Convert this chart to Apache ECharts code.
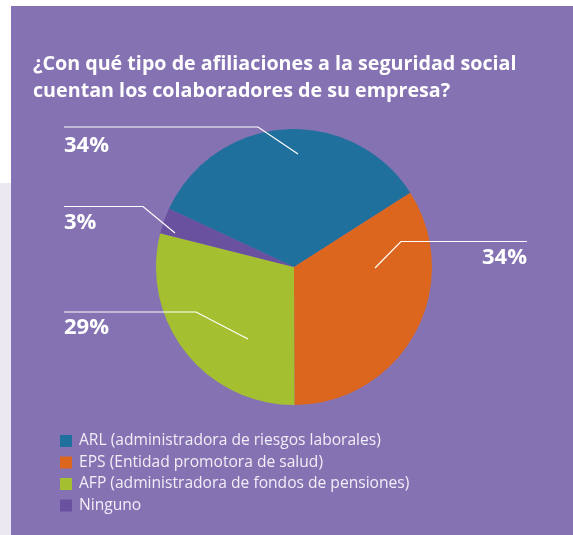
<!DOCTYPE html>
<html>
<head>
<meta charset="utf-8">
<script src="https://cdn.jsdelivr.net/npm/echarts@6/dist/echarts.min.js"></script>
<style>
  html, body { margin: 0; padding: 0; background: #ffffff; }
  #chart { width: 573px; height: 535px; }
</style>
</head>
<body>
<div id="chart"></div>
<script>
// datos del gráfico
const categories = [
  'ARL (administradora de riesgos laborales)',
  'EPS (Entidad promotora de salud)',
  'AFP (administradora de fondos de pensiones)',
  'Ninguno'
];
const values = [34, 34, 29, 3];
const colors = ['#20709d', '#dc661e', '#a4c031', '#6a51a0'];

// posición de las etiquetas y líneas guía (diseño fijo de la infografía)
const labelSpots = [
  { x: 64, y: 146, align: 'left', line: [[298, 154], [258, 127], [64, 127]] },
  { x: 527, y: 258, align: 'right', line: [[375, 268], [401, 241.5], [527, 241.5]] },
  { x: 64, y: 328, align: 'left', line: [[248, 339], [196, 312], [64, 312]] },
  { x: 64, y: 223, align: 'left', line: [[175, 233], [143, 206.5], [64, 206.5]] }
];

const pieCenter = [294, 267];
const pieRadius = 138;
const pieStart = 155;

const chart = echarts.init(document.getElementById('chart'));

const option = {
  backgroundColor: '#ffffff',
  animation: false,
  graphic: [
    { type: 'rect', silent: true, shape: { x: 0, y: 183, width: 11, height: 352 }, style: { fill: '#ebe8f1' } },
    { type: 'rect', silent: true, shape: { x: 11, y: 6, width: 562, height: 529 }, style: { fill: '#8572b3' } }
  ],
  title: {
    text: '¿Con qué tipo de afiliaciones a la seguridad social\ncuentan los colaboradores de su empresa?',
    left: 28,
    top: 46,
    textStyle: {
      color: '#ffffff',
      fontFamily: 'Open Sans',
      fontWeight: 'bold',
      fontSize: 19.7,
      lineHeight: 27
    }
  },
  legend: {
    orient: 'vertical',
    left: 55,
    top: 427,
    icon: 'rect',
    itemWidth: 12,
    itemHeight: 12,
    itemGap: 3.5,
    data: categories,
    textStyle: {
      color: '#f1eef7',
      fontFamily: 'Open Sans',
      fontSize: 15.6,
      lineHeight: 18,
      padding: [0, 0, 0, 2]
    }
  },
  series: [
    {
      // sectores con color
      type: 'pie',
      center: pieCenter,
      radius: pieRadius,
      startAngle: pieStart,
      clockwise: true,
      z: 2,
      data: categories.map((name, i) => ({
        name: name,
        value: values[i],
        itemStyle: { color: colors[i] }
      })),
      label: { show: false },
      labelLine: { show: false },
      emphasis: { disabled: true }
    },
    {
      // misma torta transparente encima, sólo para etiquetas y líneas
      type: 'pie',
      center: pieCenter,
      radius: pieRadius,
      startAngle: pieStart,
      clockwise: true,
      z: 5,
      silent: true,
      avoidLabelOverlap: false,
      data: categories.map((name, i) => ({
        name: name,
        value: values[i],
        itemStyle: { color: 'rgba(0,0,0,0)' }
      })),
      label: {
        show: true,
        position: 'outside',
        formatter: '{c}%',
        color: '#ffffff',
        fontFamily: 'Open Sans',
        fontWeight: 'bold',
        fontSize: 22
      },
      labelLine: {
        show: true,
        lineStyle: { color: '#ffffff', width: 1.2 }
      },
      labelLayout: function (params) {
        const s = labelSpots[params.dataIndex];
        return {
          x: s.x,
          y: s.y,
          align: s.align,
          verticalAlign: 'middle',
          labelLinePoints: s.line
        };
      },
      emphasis: { disabled: true }
    }
  ]
};

chart.setOption(option);
</script>
</body>
</html>
